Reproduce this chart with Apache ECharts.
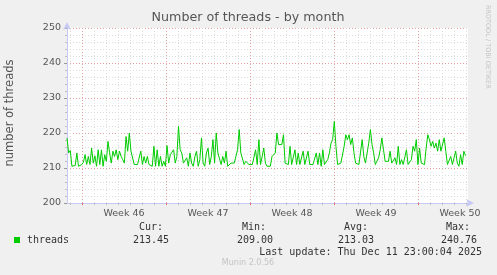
<!DOCTYPE html>
<html><head><meta charset="utf-8">
<script src="https://cdn.jsdelivr.net/npm/echarts@6/dist/echarts.min.js"></script>
<style>html,body{margin:0;padding:0;background:#f0f0f0}#c{width:497px;height:275px}</style>
</head><body><div id="c"></div>
<script>
// ---- data ----
const threads = [
218.6,214.3,215.0,210.5,210.5,210.7,214.3,210.5,210.5,211.0,211.6,213.8,211.0,213.3,211.0,215.7,211.4,213.5,210.5,215.2,
211.0,215.2,210.5,213.8,211.9,217.6,214.3,211.4,214.8,213.3,215.2,212.4,214.8,213.3,212.4,211.4,219.0,214.8,220.0,214.8,
214.3,211.0,211.4,211.0,211.4,214.8,211.0,213.3,211.4,213.3,211.0,211.0,210.5,216.2,210.5,215.2,210.5,213.3,210.5,211.9,
210.5,216.4,211.4,213.8,213.3,215.2,211.4,213.3,221.9,215.2,214.3,211.4,211.0,212.9,210.5,214.3,211.4,210.5,213.3,214.8,
210.5,212.4,218.6,211.4,210.5,214.3,215.7,211.0,213.3,218.1,211.4,220.0,214.3,214.8,211.0,213.3,211.4,214.8,210.5,211.0,
211.4,211.0,211.4,211.4,215.2,221.0,214.3,214.3,211.0,211.9,211.4,211.0,211.4,211.0,
211.4,215.2,211.0,218.1,211.0,213.3,215.7,211.4,210.5,211.0,210.5,213.3,213.8,214.3,220.0,216.7,217.1,216.7,219.5,211.4,
211.0,211.0,216.2,211.0,211.4,215.2,211.0,214.3,211.0,211.4,214.8,211.0,211.0,214.8,211.0,211.4,211.0,211.4,214.3,211.0,
214.3,210.5,215.2,211.0,211.4,212.4,214.3,217.1,218.1,223.3,216.2,211.0,211.0,211.4,211.0,216.2,219.5,218.1,219.5,216.7,
218.6,214.3,211.4,211.9,211.0,211.4,218.1,213.3,211.4,211.9,217.1,221.0,216.7,214.3,211.0,211.4,212.9,215.2,218.6,215.2,
211.9,211.4,211.9,214.8,211.4,211.0,212.9,211.0,216.2,211.0,212.4,211.0,211.4,215.2,211.0,211.4,212.4,216.2,214.8,218.1,
211.0,215.7,211.4,211.4,211.0,215.7,219.5,218.1,216.2,217.6,215.7,217.1,214.8,218.1,214.8,214.8,218.6,214.8,211.0,210.5,
213.3,211.0,210.5,214.8,211.4,210.5,213.8,211.0,214.8,213.5
];
const yTicks = [200, 210, 220, 230, 240, 250];
const weekLabels = ['Week 46', 'Week 47', 'Week 48', 'Week 49', 'Week 50'];
const weekStarts = ['2025-11-10', '2025-11-17', '2025-11-24', '2025-12-01', '2025-12-08'];
const axisStartUTC = '2025-11-08T18:00:00Z';
const axisEndUTC = '2025-12-12T04:00:00Z';
const dataStartUTC = '2025-11-08T18:00:00Z';
const dataEndUTC = '2025-12-11T23:00:00Z';
const legendName = 'threads';
const legendHeads = ['Cur:', 'Min:', 'Avg:', 'Max:'];
const legendValues = ['213.45', '209.00', '213.03', '240.76'];
const lastUpdate = 'Last update: Thu Dec 11 23:00:04 2025';
const titleText = 'Number of threads - by month';
const yName = 'number of threads';
const sideText = 'RRDTOOL / TOBI OETIKER';
const footer = 'Munin 2.0.56';

// ---- build ----
const H = 3600e3;
const t0 = Date.parse(axisStartUTC), t1 = Date.parse(axisEndUTC);
const d0 = Date.parse(dataStartUTC), d1 = Date.parse(dataEndUTC);
const totalHours = (t1 - t0) / H;
const slots = [];
for (let t = t0; t <= t1; t += 2 * H) slots.push(String(t));
const weekMs = weekStarts.map(s => Date.parse(s + 'T00:00:00Z'));
const labelMs = weekMs.map(m => m + 3.5 * 24 * H);
const isMidnight = v => new Date(+v).getUTCHours() === 0;
const isWeekStart = v => weekMs.includes(+v);
const labelIdx = v => labelMs.indexOf(+v);

const step = (d1 - d0) / (threads.length - 1);
const seriesData = threads.map((v, i) => [(d0 - t0 + i * step) / H, v]);

const RED = '#e6a0a0', GREY = '#dcdcdc', AX = '#c8c8f4';
const FONT = 'DejaVu Sans', MONO = 'DejaVu Sans Mono';

const chart = echarts.init(document.getElementById('c'), null, {renderer: 'canvas'});
const txt = (text, x, y, o) => Object.assign({type: 'text', x, y, silent: true,
  style: Object.assign({text, fill: '#333', font: '10px ' + MONO, align: 'left', verticalAlign: 'middle'}, o || {})});
const graphics = [
  txt(titleText, 248, 18, {font: '12.7px ' + FONT, fill: '#555', align: 'center'}),
  Object.assign(txt(yName, 10, 113, {font: '11.5px ' + FONT, fill: '#555', align: 'center'}), {rotation: Math.PI / 2}),
  Object.assign(txt(sideText, 488, 5, {font: '6.5px ' + FONT, fill: '#c4c4c4', align: 'left'}), {rotation: -Math.PI / 2}),
  {type: 'rect', shape: {x: 14, y: 237, width: 6, height: 6}, style: {fill: '#00cc00'}, silent: true},
  txt(legendName, 27, 240),
  txt(lastUpdate, 482, 252, {align: 'right'}),
  txt(footer, 248, 263, {font: '8px ' + FONT, fill: '#c4c4c4', align: 'center'})
];
const headRight = [163, 266, 368, 470], valRight = [169, 273, 374, 477];
legendHeads.forEach((h, i) => graphics.push(txt(h, headRight[i], 227, {align: 'right'})));
legendValues.forEach((v, i) => graphics.push(txt(v, valRight[i], 240, {align: 'right'})));

chart.setOption({
  animation: false,
  backgroundColor: '#f0f0f0',
  grid: {left: 67, right: 29, top: 28, bottom: 72, show: true, backgroundColor: '#fff', borderWidth: 0},
  xAxis: [
    {type: 'value', min: 0, max: totalHours, show: false},
    {type: 'category', data: slots, boundaryGap: false, position: 'bottom',
      axisLine: {show: false}, axisLabel: {show: false},
      axisTick: {show: true, inside: false, length: 2, interval: (i, v) => isMidnight(v) && !isWeekStart(v), lineStyle: {color: '#c0c0c0'}},
      splitLine: {show: true, interval: (i, v) => isMidnight(v) && !isWeekStart(v), lineStyle: {color: GREY, type: [1, 2]}}},
    {type: 'category', data: slots, boundaryGap: false, position: 'bottom',
      axisLine: {show: true, lineStyle: {color: AX, width: 1}, symbol: ['none', 'arrow'], symbolSize: [6, 8], symbolOffset: [0, 6]},
      axisTick: {show: true, inside: false, length: 2, interval: (i, v) => isWeekStart(v), lineStyle: {color: '#e07070'}},
      splitLine: {show: true, interval: (i, v) => isWeekStart(v), lineStyle: {color: RED, type: [1, 2]}},
      axisLabel: {show: true, interval: (i, v) => labelIdx(v) >= 0, formatter: v => weekLabels[labelIdx(v)] || '',
        color: '#555', fontFamily: FONT, fontSize: 9.5, margin: 6}}
  ],
  yAxis: {type: 'value', min: yTicks[0], max: yTicks[yTicks.length - 1], interval: 10,
    axisLine: {show: true, lineStyle: {color: AX}, symbol: ['none', 'arrow'], symbolSize: [6, 8], symbolOffset: [0, 6]},
    axisTick: {show: true, length: 3, lineStyle: {color: '#999'}},
    minorTick: {show: true, splitNumber: 5, length: 2, lineStyle: {color: '#c0c0c0'}},
    splitLine: {show: true, lineStyle: {color: RED, type: [1, 2]}},
    minorSplitLine: {show: true, lineStyle: {color: GREY, type: [1, 2]}},
    axisLabel: {color: '#555', fontFamily: FONT, fontSize: 9.5, margin: 6}},
  series: [{type: 'line', xAxisIndex: 0, data: seriesData, showSymbol: false, symbol: 'none',
    lineStyle: {color: '#00cc00', width: 1}, z: 5}],
  graphic: graphics
});
</script></body></html>
